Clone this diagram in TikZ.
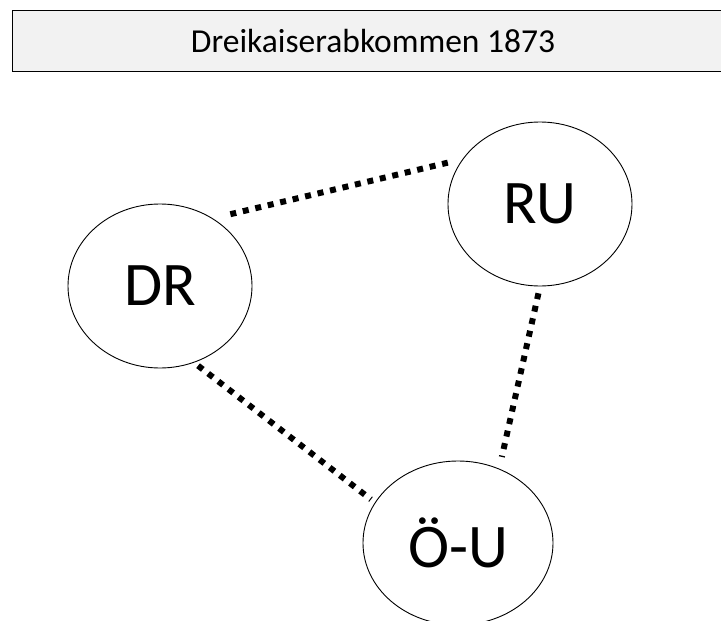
\documentclass[tikz,border=0pt]{standalone}
\usepackage{fontspec}
\setmainfont{Carlito}
\usetikzlibrary{shapes.geometric}
\begin{document}
\begin{tikzpicture}[x=1pt,y=-1pt,
  staat/.style={draw,ellipse,line width=.9pt,inner sep=0pt,minimum width=184pt,minimum height=164pt,font=\fontsize{62}{70}\selectfont},
  titel/.style={inner sep=0pt,font=\fontsize{33.5}{40}\selectfont},
  bund/.style={line width=6pt,dash pattern=on 6pt off 6.8pt}]
\useasboundingbox (0,0) rectangle (721,621);

\draw[fill=black!5,line width=1pt] (12,10) rectangle (790,71);
\node[titel] (titel) at (373,40.5) {Dreikaiserabkommen 1873};

\node[staat] (dr) at (160,286) {DR};
\node[staat] (ru) at (540,204) {RU};
\node[staat,minimum width=190pt] (ou) at (458,543) {Ö-U};

\foreach \a/\b/\s/\e in {dr.52/ru.150/18/15, dr.-66/ou.154/5/5, ru.-90/ou.61/7/12}
  {
    \draw[bund,shorten <=\s pt,shorten >=\e pt] (\a) -- (\b);
    }
\end{tikzpicture}
\end{document}
